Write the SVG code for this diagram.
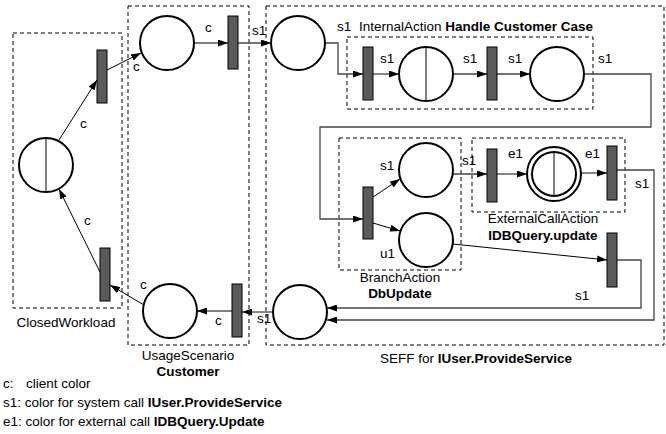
<svg xmlns="http://www.w3.org/2000/svg" width="666" height="434" viewBox="0 0 666 434">
<defs>
<marker id="arr" markerWidth="10" markerHeight="7" refX="10" refY="3.5" orient="auto" markerUnits="userSpaceOnUse">
<path d="M0,0 L10,3.5 L0,7 z" fill="#000"/>
</marker>
<style>
text{font-family:"Liberation Sans",Arial,sans-serif;font-size:13.5px;fill:#000}
.b{font-weight:bold}
.m{text-anchor:middle}
.box{fill:none;stroke:#000;stroke-width:1;stroke-dasharray:4,3}
.pl{fill:#fff;stroke:#000;stroke-width:2}
.tr{fill:#5a5a5a;stroke:#000;stroke-width:1}
.ln{fill:none;stroke:#000;stroke-width:1}
.ar{fill:none;stroke:#000;stroke-width:1;marker-end:url(#arr)}
.ag{fill:none;stroke:#444;stroke-width:1.3;marker-end:url(#arr)}
</style>
</defs>
<rect width="666" height="434" fill="#fff"/>

<g id="boxes">
<rect id="closedWorkload" class="box" x="13" y="33" width="109" height="275"/>
<rect id="usageScenario" class="box" x="128" y="6" width="121" height="339"/>
<rect id="seff" class="box" x="266" y="6" width="398" height="339"/>
<rect id="internalAction" class="box" x="347" y="37" width="246" height="72"/>
<rect id="branchAction" class="box" x="339" y="138" width="122" height="132"/>
<rect id="externalCall" class="box" x="472" y="138" width="153" height="74"/>
</g>

<g id="connectors">
<line class="ar" x1="59" y1="140" x2="97" y2="80"/>
<line class="ar" x1="107" y1="70" x2="141" y2="53"/>
<line class="ar" x1="194" y1="43" x2="228" y2="43"/>
<line class="ag" x1="238" y1="43" x2="271" y2="43"/>
<path class="ag" d="M325,43 H338 V74 H363"/>
<line class="ag" x1="373" y1="74" x2="399" y2="74"/>
<line class="ag" x1="453" y1="74" x2="487" y2="74"/>
<line class="ag" x1="497" y1="74" x2="530" y2="74"/>
<path class="ag" d="M584,74 H651 V127 H320 V219 H363"/>
<line class="ar" x1="373" y1="197" x2="400" y2="179"/>
<line class="ar" x1="373" y1="223" x2="400" y2="231"/>
<line class="ag" x1="453" y1="174" x2="487" y2="174"/>
<line class="ag" x1="497" y1="174" x2="527" y2="174"/>
<line class="ag" x1="581" y1="173" x2="607" y2="173"/>
<path class="ag" d="M617,170 H654 V320 H327"/>
<line class="ar" x1="453" y1="244" x2="607" y2="260"/>
<path class="ag" d="M617,260 H641 V308 H327"/>
<line class="ag" x1="273" y1="312" x2="242" y2="312"/>
<line class="ar" x1="232" y1="311" x2="197" y2="311"/>
<line class="ar" x1="144" y1="305" x2="110" y2="285"/>
<line class="ar" x1="100" y1="272" x2="59" y2="189"/>
</g>

<g id="cwPlace"><circle class="pl" cx="46" cy="165" r="27"/><line class="ln" stroke-width="2" x1="46" y1="138" x2="46" y2="192"/></g>
<g id="cwTransTop"><rect class="tr" x="97" y="50" width="10" height="53"/></g>
<g id="cwTransBottom"><rect class="tr" x="100" y="248" width="10" height="53"/></g>
<g id="usPlaceTop"><circle class="pl" cx="167" cy="43" r="27"/></g>
<g id="usTransTop"><rect class="tr" x="228" y="16" width="10" height="53"/></g>
<g id="usPlaceBottom"><circle class="pl" cx="170" cy="311" r="27"/></g>
<g id="usTransBottom"><rect class="tr" x="232" y="284" width="10" height="53"/></g>
<g id="seffPlaceStart"><circle class="pl" cx="298" cy="43" r="27"/></g>
<g id="iaTrans1"><rect class="tr" x="363" y="47" width="10" height="53"/></g>
<g id="iaPlace"><circle class="pl" cx="426" cy="74" r="27"/><line class="ln" stroke-width="2" x1="426" y1="47" x2="426" y2="101"/></g>
<g id="iaTrans2"><rect class="tr" x="487" y="47" width="10" height="53"/></g>
<g id="iaPlaceOut"><circle class="pl" cx="557" cy="74" r="27"/></g>
<g id="branchTrans"><rect class="tr" x="363" y="187" width="10" height="52"/></g>
<g id="branchPlaceS1"><circle class="pl" cx="426" cy="170" r="27"/></g>
<g id="branchPlaceU1"><circle class="pl" cx="426" cy="240" r="27"/></g>
<g id="ecTrans1"><rect class="tr" x="487" y="149" width="10" height="53"/></g>
<g id="ecPlace"><circle class="pl" cx="554" cy="174" r="27"/><circle class="pl" cx="554" cy="174" r="22"/><line class="ln" stroke-width="2" x1="554" y1="152" x2="554" y2="196"/></g>
<g id="ecTrans2"><rect class="tr" x="607" y="146" width="10" height="54"/></g>
<g id="u1Trans"><rect class="tr" x="607" y="233" width="10" height="54"/></g>
<g id="seffPlaceEnd"><circle class="pl" cx="300" cy="312" r="27"/></g>

<g id="labels">
<text x="80" y="128">c</text>
<text x="133" y="71">c</text>
<text x="205" y="32">c</text>
<text x="252" y="35">s1</text>
<text x="337" y="31">s1</text>
<text x="359" y="31">InternalAction <tspan class="b">Handle Customer Case</tspan></text>
<text x="380" y="63">s1</text>
<text x="463" y="63">s1</text>
<text x="508" y="63">s1</text>
<text x="598" y="63">s1</text>
<text x="380" y="170">s1</text>
<text x="380" y="258">u1</text>
<text class="m" x="400" y="282">BranchAction</text>
<text class="m b" x="400" y="298">DbUpdate</text>
<text x="462" y="165">s1</text>
<text x="508" y="158">e1</text>
<text x="585" y="158">e1</text>
<text x="635" y="188">s1</text>
<text class="m" x="543" y="223">ExternalCallAction</text>
<text class="m b" x="543" y="240">IDBQuery.update</text>
<text x="575" y="300">s1</text>
<text x="257" y="323">s1</text>
<text x="215" y="325">c</text>
<text x="140" y="289">c</text>
<text x="84" y="225">c</text>
<text class="m" x="66" y="327">ClosedWorkload</text>
<text class="m" x="188" y="360">UsageScenario</text>
<text class="m b" x="188" y="376">Customer</text>
<text class="m" x="476" y="363">SEFF for <tspan class="b">IUser.ProvideService</tspan></text>
</g>

<g id="legend">
<text x="3" y="388">c:</text>
<text x="26" y="388">client color</text>
<text x="3" y="407">s1: color for system call <tspan class="b">IUser.ProvideService</tspan></text>
<text x="3" y="426">e1: color for external call <tspan class="b">IDBQuery.Update</tspan></text>
</g>
</svg>
